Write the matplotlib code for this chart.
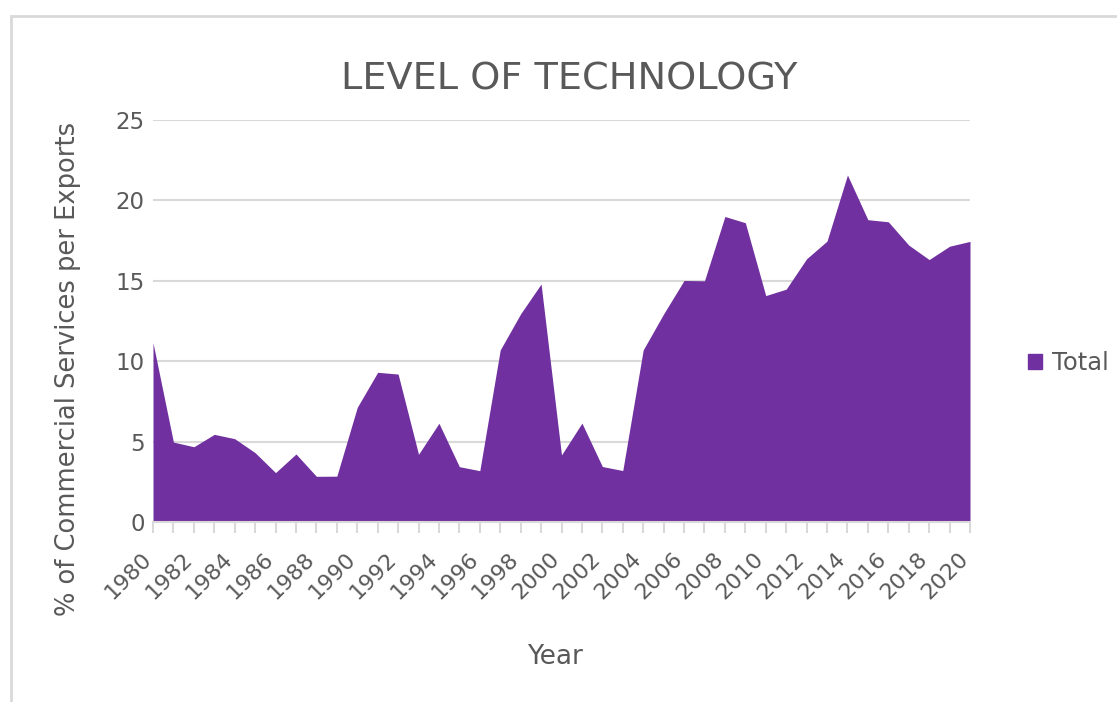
import numpy as np
import matplotlib.pyplot as plt
from matplotlib.patches import Rectangle, Patch
from matplotlib.transforms import ScaledTranslation

# commercial services share of exports, 1980-2020
years = np.arange(1980, 2021)
total = [11.15, 4.97, 4.68, 5.45, 5.18, 4.31, 3.07, 4.23, 2.84, 2.85,
         7.13, 9.31, 9.20, 4.21, 6.14, 3.44, 3.19, 10.70, 12.95, 14.80,
         4.17, 6.15, 3.45, 3.20, 10.70, 12.94, 15.02, 15.00, 19.00, 18.61,
         14.08, 14.48, 16.37, 17.47, 21.58, 18.80, 18.67, 17.22, 16.32, 17.15,
         17.45]

purple = '#7030A0'
grid_c = '#d9d9d9'
text_c = '#595959'

fig = plt.figure(figsize=(11.17, 7.02), dpi=100)
ax = fig.add_axes([153 / 1117, 1 - 522 / 702, 817 / 1117, 402 / 702])

# chart frame
fig.patches.append(Rectangle((11 / 1117, -0.05), 1.2, 1 - 16 / 702 + 0.05,
                             transform=fig.transFigure, fill=False,
                             edgecolor=grid_c, lw=2))

ax.fill_between(years, total, 0, color=purple, lw=0, zorder=2)

ax.set_xlim(1980, 2020)
ax.set_ylim(0, 25)
ax.set_yticks(np.arange(0, 26, 5))
ax.set_xticks(np.arange(1980, 2021, 2))
ax.set_xticks(np.arange(1981, 2020, 2), minor=True)
ax.grid(axis='y', color=grid_c, lw=1.5, zorder=1)

for s in ['top', 'right', 'left']:
    ax.spines[s].set_visible(False)
ax.spines['bottom'].set_color(grid_c)
ax.spines['bottom'].set_linewidth(1.5)

ax.tick_params(axis='y', length=0, pad=6, labelsize=16.5, labelcolor=text_c)
ax.tick_params(axis='x', which='both', length=8, width=1.5, color=grid_c,
               pad=16, labelsize=16, labelcolor=text_c)
shift = ScaledTranslation(-5 / 100, 0, fig.dpi_scale_trans)
for lbl in ax.get_xticklabels():
    lbl.set_rotation(45)
    lbl.set_ha('right')
    lbl.set_va('center')
    lbl.set_rotation_mode('anchor')
    lbl.set_transform(lbl.get_transform() + shift)

ax.set_title('LEVEL OF TECHNOLOGY', fontsize=27.5, color=text_c, pad=22, x=0.51)
ax.set_xlabel('Year', fontsize=19, color=text_c, va='center')
ax.xaxis.set_label_coords(0.492, (522 - 657) / 402)
ax.set_ylabel('% of Commercial Services per Exports', fontsize=18.5,
              color=text_c, va='center')
ax.yaxis.set_label_coords((68 - 153) / 817, (522 - 369) / 402)

leg = ax.legend(handles=[Patch(color=purple, label='Total')],
                loc='center left', bbox_to_anchor=(1.044, (522 - 363) / 402),
                frameon=False, fontsize=17.5, handlelength=0.6,
                handleheight=0.6, handletextpad=0.4)
for t in leg.get_texts():
    t.set_color(text_c)

fig.savefig('out.png', dpi=100)
